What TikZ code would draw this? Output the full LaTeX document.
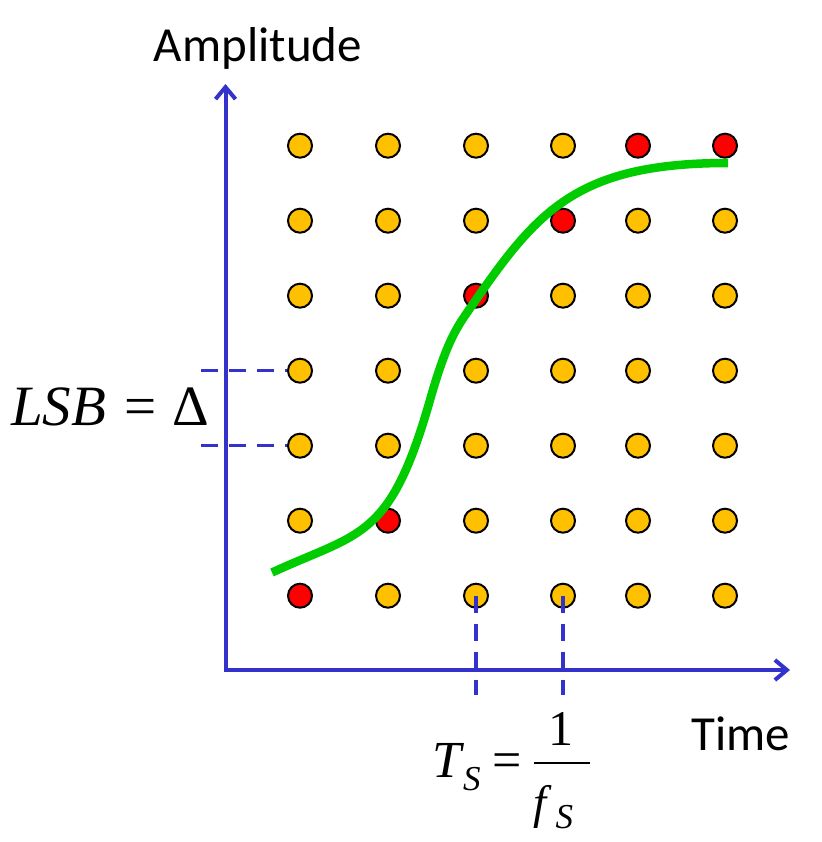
\documentclass[tikz,border=0pt]{standalone}
\usepackage{fontspec}
\newfontfamily\tms{Liberation Serif}
\newfontfamily\calib{Carlito}
\usetikzlibrary{arrows.meta}
\definecolor{axisblue}{RGB}{51,51,204}
\definecolor{dotorange}{RGB}{255,192,0}
\definecolor{dotred}{RGB}{255,0,0}
\definecolor{curvegreen}{RGB}{0,204,0}
\begin{document}
\begin{tikzpicture}[x=1pt,y=-1pt,
  dot/.style={circle,draw=black,line width=2pt,fill=dotorange,minimum size=24pt,inner sep=0pt},
  hot/.style={dot,fill=dotred},
  axisline/.style={draw=axisblue,line width=4pt,-{Straight Barb[length=12pt,width=20pt,line width=4pt]}},
  guide/.style={draw=axisblue,line width=3.5pt,dash pattern=on 17pt off 11pt},
  curve/.style={draw=curvegreen,line width=8.5pt,line cap=butt},
  label/.style={inner sep=0pt,anchor=base}]
\useasboundingbox (0,0) rectangle (821,842);

% axes
\coordinate (o) at (225.5,670);
\coordinate (ytip) at (225.5,84);
\coordinate (xtip) at (790,670);
\draw[axisline] ([yshift=2pt]o) -- (ytip);
\draw[axisline] ([xshift=-2pt]o) -- (xtip);

% dots
\foreach \x/\r [count=\i] in {300/7,388/6,476/3,563/2,638/1,725/1}{
  \foreach \y [count=\j] in {145.7,220.7,295.7,370.7,445.7,520.7,595.7}{
    \ifnum\j=\r \def\st{hot}\else\def\st{dot}\fi
    \node[\st] (d-\i-\j) at (\x,\y) {};
  }
}

% LSB guides
\coordinate (la) at (201,370.7);
\coordinate (lb) at (201,445.7);
\draw[guide] (la) -- (d-1-4.west);
\draw[guide] (lb) -- (d-1-5.west);

% Ts guides
\coordinate (ta) at (476,695);
\coordinate (tb) at (563,695);
\draw[guide] (d-3-7.center) -- (ta);
\draw[guide] (d-4-7.center) -- (tb);

% signal curve
\draw[curve] (272,572.5) .. controls (361,531.6) and (390,540) .. (430,400)
  .. controls (448,337) and (458,325.75) .. (473,304)
  .. controls (538,209.75) and (578,163) .. (728,163);

% labels
\node[label,font=\calib\fontsize{49}{58}\selectfont] (amp) at (258,62) {Amplitude};
\node[label,font=\calib\fontsize{49}{58}\selectfont] (time) at (741,750) {Time};
\node[label,font=\tms\fontsize{57}{68}\selectfont,anchor=base west] (lsb) at (11,425) {\textit{LSB}\kern18pt=\kern16pt Δ};
\node[label,font=\tms\fontsize{52}{62}\selectfont,anchor=base west] (ts) at (432,777) {\textit{T}\kern-1pt\raisebox{-13pt}{\fontsize{35}{40}\selectfont\textit{S}}\kern12pt=};
\node[label,font=\tms\fontsize{50}{60}\selectfont] (one) at (561,745) {1};
\coordinate (fbl) at (534,763);
\coordinate (fbr) at (590,763);
\draw[line width=2.2pt] (fbl) -- (fbr);
\node[label,font=\tms\fontsize{47}{56}\selectfont,anchor=base west] (fs) at (533,818) {\textit{f}\kern4pt\raisebox{-10pt}{\fontsize{35}{40}\selectfont\textit{S}}};
\end{tikzpicture}
\end{document}
